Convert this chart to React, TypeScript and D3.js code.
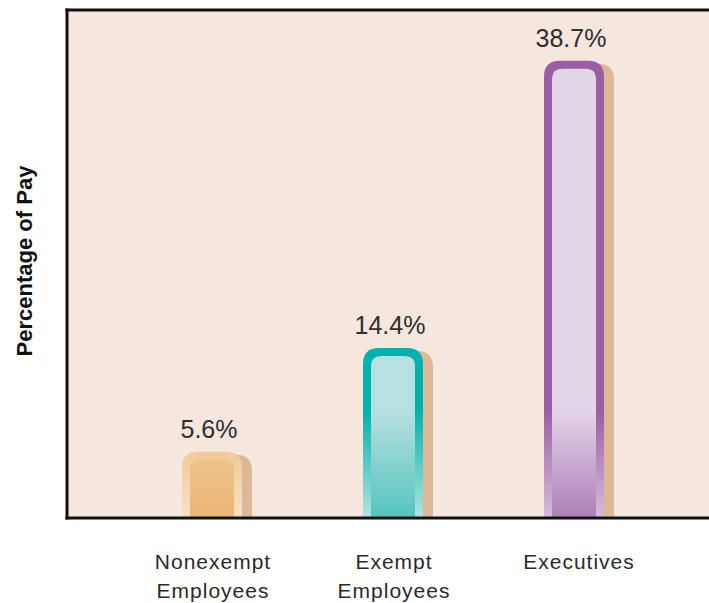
import React from "react";
import * as d3 from "d3";

const categories = ["Nonexempt Employees", "Exempt Employees", "Executives"];
const labelLines = [["Nonexempt", "Employees"], ["Exempt", "Employees"], ["Executives"]];
const values = [5.6, 14.4, 38.7];
const valueLabels = ["5.6%", "14.4%", "38.7%"];

const palettes = [
  { outerTop: "#ebbd7c", outerBottom: "#f7e0c4", innerTop: "#f2cf9c", innerBottom: "#ebb574" },
  { outerTop: "#00b2ad", outerBottom: "#b5e2e0", innerTop: "#b7e0e0", innerBottom: "#55c4be" },
  { outerTop: "#9b5ea3", outerBottom: "#d3bddb", innerTop: "#e3d5e8", innerBottom: "#ad7fb8" },
];

const W = 709;
const H = 603;
const plotLeft = 67;
const plotTop = 10;
const baseY = 518;

function roundTopPath(x0: number, y0: number, x1: number, y1: number, r: number) {
  const rr = Math.min(r, (x1 - x0) / 2, y1 - y0);
  return `M${x0},${y1} L${x0},${y0 + rr} Q${x0},${y0} ${x0 + rr},${y0} L${x1 - rr},${y0} Q${x1},${y0} ${x1},${y0 + rr} L${x1},${y1} Z`;
}

export default function App() {
  const x = d3.scalePoint<string>().domain(categories).range([212, 574]);
  const y = d3.scaleLinear().domain([0, 43]).range([baseY, plotTop]);
  const barW = 60;
  const border = 8;
  const gradTop = 410;
  const font = "Liberation Sans, Arial, sans-serif";

  return (
    <svg width={W} height={H} style={{ position: "absolute", left: 0, top: 0 }}>
      <defs>
        {palettes.map((p, i) => (
          <React.Fragment key={i}>
            <linearGradient id={`outer${i}`} gradientUnits="userSpaceOnUse" x1="0" x2="0" y1={gradTop} y2={baseY}>
              <stop offset="0" stopColor={p.outerTop} />
              <stop offset="1" stopColor={p.outerBottom} />
            </linearGradient>
            <linearGradient id={`inner${i}`} gradientUnits="userSpaceOnUse" x1="0" x2="0" y1={gradTop} y2={baseY}>
              <stop offset="0" stopColor={p.innerTop} />
              <stop offset="1" stopColor={p.innerBottom} />
            </linearGradient>
          </React.Fragment>
        ))}
        <clipPath id="plotClip">
          <rect x={plotLeft} y={plotTop} width={W - plotLeft} height={baseY - plotTop} />
        </clipPath>
      </defs>
      <rect x={plotLeft} y={plotTop} width={W - plotLeft} height={baseY - plotTop} fill="#f5e7de" />
      <g clipPath="url(#plotClip)">
        {categories.map((c, i) => {
          const cx = x(c)!;
          const x0 = cx - barW / 2;
          const x1 = cx + barW / 2;
          const top = y(values[i]);
          return (
            <g key={c}>
              <path d={roundTopPath(x0 + 10, top + 3, x1 + 10, baseY + 5, 16)} fill="#ddb898" />
              <path d={roundTopPath(x0, top, x1, baseY, 16)} fill={`url(#outer${i})`} />
              <path d={roundTopPath(x0 + border, top + border, x1 - border, baseY, 10)} fill={`url(#inner${i})`} />
            </g>
          );
        })}
      </g>
      {categories.map((c, i) => (
        <text key={c} x={x(c)! - 3} y={y(values[i]) - 14} textAnchor="middle" fontFamily={font} fontSize={25} fill="#2e2e2e">
          {valueLabels[i]}
        </text>
      ))}
      <line x1={plotLeft} x2={plotLeft} y1={plotTop - 1.5} y2={baseY + 1.5} stroke="#111" strokeWidth={3} />
      <line x1={plotLeft - 1.5} x2={W} y1={plotTop} y2={plotTop} stroke="#111" strokeWidth={3} />
      <line x1={plotLeft - 1.5} x2={W} y1={baseY} y2={baseY} stroke="#111" strokeWidth={3} />
      {categories.map((c, i) => (
        <text key={c} x={x(c)!} y={569} textAnchor="middle" fontFamily={font} fontSize={21} letterSpacing={1} fill="#2a2a2a">
          {labelLines[i].map((ln, j) => (
            <tspan key={j} x={x(c)! + (i === 2 ? 5 : 1)} dy={j === 0 ? 0 : 29}>{ln}</tspan>
          ))}
        </text>
      ))}
      <text transform={`translate(32,261) rotate(-90)`} textAnchor="middle" fontFamily={font} fontWeight="bold" fontSize={22} fill="#111">
        Percentage of Pay
      </text>
    </svg>
  );
}
